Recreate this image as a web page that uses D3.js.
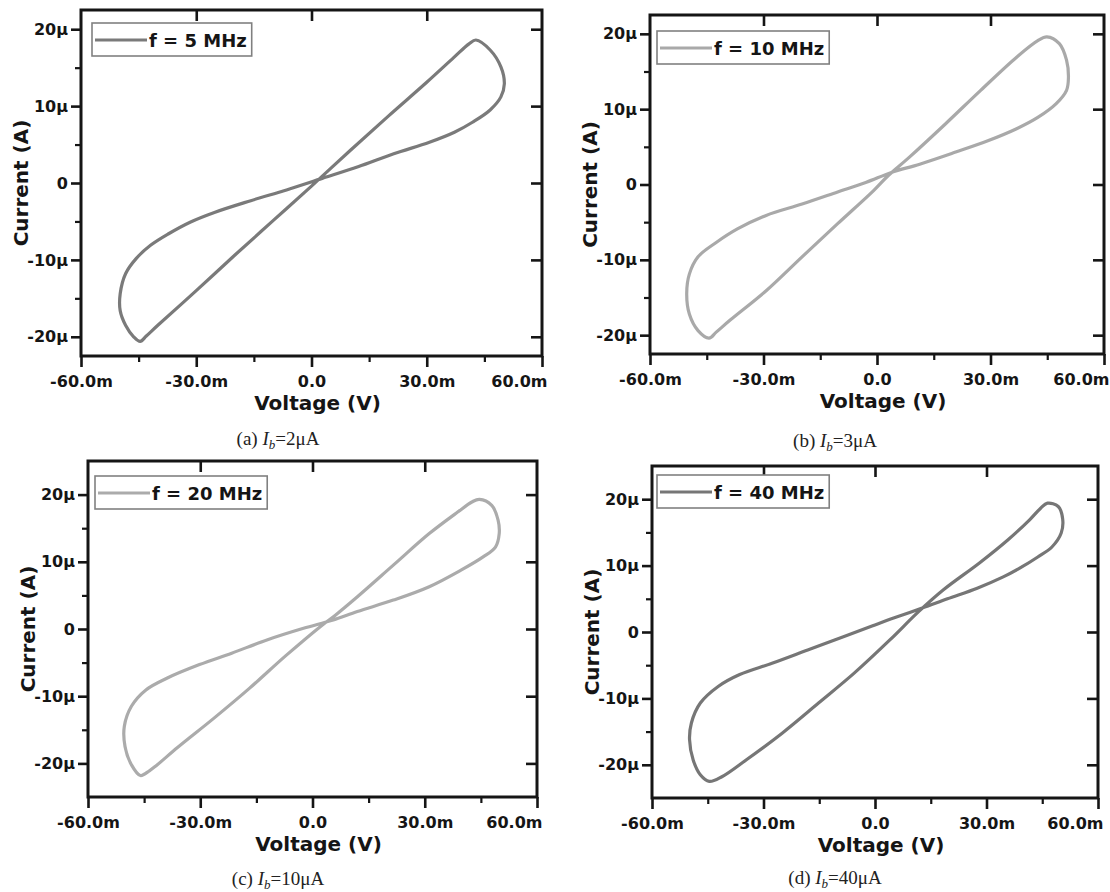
<!DOCTYPE html>
<html>
<head>
<meta charset="utf-8">
<script src="https://cdn.jsdelivr.net/npm/d3@7"></script>
<style>
body{margin:0;background:#fff;}
.tick text{font-family:"DejaVu Sans",sans-serif;font-weight:bold;font-size:16px;fill:#151515;}
.tick line{stroke:#151515;stroke-width:2.6;}
.minor .tick line{stroke-width:2.2;}
.axis-label{font-family:"DejaVu Sans",sans-serif;font-weight:bold;font-size:20px;fill:#151515;}
.legend-text{font-family:"DejaVu Sans",sans-serif;font-weight:bold;font-size:18px;fill:#151515;}
.caption{font-family:"Liberation Serif",serif;font-size:19px;fill:#222;}
</style>
</head>
<body>
<div class="container"></div>
<script>
// tick values (mV, µA) and their printed labels
var xTicks = [-60, -30, 0, 30, 60];
var xTickLabels = ['-60.0m', '-30.0m', '0.0', '30.0m', '60.0m'];
var xMinor = [-45, -15, 15, 45];
var yTicks = [-20, -10, 0, 10, 20];
var yTickLabels = ['-20µ', '-10µ', '0', '10µ', '20µ'];
var yMinor = [-15, -5, 5, 15];

var legendLabels = ['f = 5 MHz', 'f = 10 MHz', 'f = 20 MHz', 'f = 40 MHz'];
var captionLetters = ['a', 'b', 'c', 'd'];
var biasCurrents = ['2', '3', '10', '40'];

// loops: [voltage mV, current µA]
var loop5MHz = [[-44.6,-20.6],[-43,-19.9],[-40,-18.5],[-30,-14],[-20,-9.4],[-10,-4.9],[0,-0.4],[10,4.2],[20,8.7],[30,13.1],[37,16.3],[41,18.1],
	[42.8,18.6],[46.5,17.3],[49.3,15.1],[50.2,12.9],[49.3,11.2],[46.5,9.5],[41.9,7.9],[37.2,6.6],[30.7,5.3],[21.4,3.8],[12.1,2.1],[2.8,0.6],
	[-6.5,-0.9],[-15.8,-2.3],[-25.1,-3.8],[-31.6,-5.1],[-37.2,-6.6],[-41.9,-8.1],[-45.6,-9.8],[-48.4,-11.8],[-49.8,-14.4],[-49.8,-16.6],[-48.4,-18.5],[-46.3,-20]];
var loop10MHz = [[-44.4,-20.4],[-42.5,-19.6],[-38.8,-18],[-29.3,-14.1],[-19.8,-9.6],[-10.4,-5.2],[-0.9,-0.8],[2.8,1.1],[8.5,3.6],[18,8],[27.4,12.5],[36.9,16.9],[42.5,19.1],
	[44.9,19.6],[48.2,18.7],[50.1,16.5],[50.6,14.2],[50.1,12.5],[47.3,10.7],[42.5,8.9],[36.9,7.4],[29.3,5.8],[20.8,4.3],[11.3,2.7],[3.8,1.6],
	[-2.8,0.3],[-10.4,-1.0],[-19.8,-2.6],[-29.3,-4.1],[-36.9,-5.9],[-42.5,-7.7],[-47.3,-9.6],[-49.6,-11.9],[-50.3,-14.5],[-49.6,-17.2],[-47.3,-19.4]];
var loop20MHz = [[-46,-21.8],[-43.6,-21.1],[-41.7,-20.3],[-36,-17.6],[-26.4,-13.3],[-16.8,-8.8],[-7.2,-4],[2.4,0.5],[6.2,2.1],[12,4.8],[21.6,9.5],[31.2,14.2],[38.8,17.4],[42.6,18.9],
	[44.6,19.3],[47.9,18.4],[49.6,16.2],[49.9,14.2],[48.9,12.2],[45.5,10.7],[39.8,8.8],[31.2,6.3],[21.6,4.3],[12,2.6],[5.3,1.3],
	[-2.4,0.1],[-12,-1.6],[-21.6,-3.6],[-30.2,-5.3],[-38.8,-7.3],[-44.6,-9.1],[-48.4,-11.5],[-50.3,-14.5],[-50.1,-17.5],[-48.4,-20.2]];
var loop40MHz = [[-44.6,-22.5],[-41.2,-21.8],[-34.5,-19.2],[-24.9,-15.2],[-15.2,-10.7],[-5.6,-6.2],[4,-1.2],[11.8,3.1],[18.5,6.4],[28.1,10.4],[35.8,13.9],[41.6,16.9],[44.5,18.6],
	[46.4,19.4],[49.3,18.9],[50.5,17],[50.1,14.9],[47.6,12.8],[43.8,11.3],[39.5,9.8],[34.5,8.3],[27.5,6.6],[19.5,5],[12.7,3.6],[5,2.1],
	[-0.8,0.9],[-8.5,-0.7],[-18.1,-2.7],[-27.7,-4.7],[-36.4,-6.4],[-42.2,-8.2],[-47,-10.7],[-49.4,-13.7],[-49.9,-16.2],[-48.9,-19.3],[-47,-21.5]];

var loops = [loop5MHz, loop10MHz, loop20MHz, loop40MHz];
var yLimits = [22.5, 22.5, 25, 25];

const WIDTH = 1110;
const HEIGHT = 892;

// panel frames
var panels = [
	{left: 81,  right: 542,  top: 10,  bottom: 356, color: '#7a7a7a', legX: 92,  legY: 23,  capX: 278, capY: 445},
	{left: 650, right: 1104, top: 15,  bottom: 354, color: '#a9a9a9', legX: 657, legY: 31,  capX: 835, capY: 447},
	{left: 88,  right: 537,  top: 461, bottom: 797, color: '#ababab', legX: 95,  legY: 476, capX: 278, capY: 885},
	{left: 652, right: 1098, top: 466, bottom: 798, color: '#767676', legX: 657, legY: 475, capX: 835, capY: 884}
];

var translate = function(x, y){
	return "translate(" + x + "," + y + ")";
};

var svg = d3.select('.container').append('svg')
	.attr('width', WIDTH)
	.attr('height', HEIGHT);

var drawPanel = function(p, i){
	var xScale = d3.scaleLinear().domain([-60, 60]).range([p.left, p.right]);
	var yScale = d3.scaleLinear().domain([-yLimits[i], yLimits[i]]).range([p.bottom, p.top]);
	var g = svg.append('g');

	// curve
	var line = d3.line()
		.x(function(d){ return xScale(d[0]); })
		.y(function(d){ return yScale(d[1]); })
		.curve(d3.curveCatmullRomClosed.alpha(0.5));
	g.append('path')
		.attr('d', line(loops[i]))
		.attr('fill', 'none')
		.attr('stroke', p.color)
		.attr('stroke-width', 3.2)
		.attr('stroke-linejoin', 'round');

	// bottom axis
	var bottomAxis = g.append('g').attr('transform', translate(0, p.bottom))
		.call(d3.axisBottom(xScale).tickValues(xTicks).tickSize(11).tickPadding(9).tickSizeOuter(0)
			.tickFormat(function(d, k){ return xTickLabels[k]; }))
		.call(function(a){ a.select('.domain').remove(); });
	// last label is pulled inside, as in the original
	bottomAxis.selectAll('.tick text')
		.filter(function(d){ return d === 60; })
		.attr('text-anchor', 'end').attr('x', 5);
	g.append('g').attr('class', 'minor').attr('transform', translate(0, p.bottom))
		.call(d3.axisBottom(xScale).tickValues(xMinor).tickSize(6).tickFormat(''))
		.call(function(a){ a.select('.domain').remove(); });

	// top axis, inward ticks
	g.append('g').attr('transform', translate(0, p.top))
		.call(d3.axisTop(xScale).tickValues([-30, 0, 30]).tickSize(-11).tickFormat(''))
		.call(function(a){ a.select('.domain').remove(); });

	// left axis
	g.append('g').attr('transform', translate(p.left, 0))
		.call(d3.axisLeft(yScale).tickValues(yTicks).tickSize(10).tickPadding(3)
			.tickFormat(function(d, k){ return yTickLabels[k]; }))
		.call(function(a){ a.select('.domain').remove(); });
	g.append('g').attr('class', 'minor').attr('transform', translate(p.left, 0))
		.call(d3.axisLeft(yScale).tickValues(yMinor).tickSize(6).tickFormat(''))
		.call(function(a){ a.select('.domain').remove(); });

	// right axis, inward ticks
	g.append('g').attr('transform', translate(p.right, 0))
		.call(d3.axisRight(yScale).tickValues(yTicks).tickSize(-11).tickFormat(''))
		.call(function(a){ a.select('.domain').remove(); });

	// frame
	g.append('rect')
		.attr('x', p.left).attr('y', p.top)
		.attr('width', p.right - p.left).attr('height', p.bottom - p.top)
		.attr('fill', 'none').attr('stroke', '#151515').attr('stroke-width', 3);

	// axis titles
	g.append('text').attr('class', 'axis-label')
		.attr('text-anchor', 'middle')
		.attr('x', (p.left + p.right) / 2 + 6).attr('y', p.bottom + 54)
		.text('Voltage (V)');
	g.append('text').attr('class', 'axis-label')
		.attr('text-anchor', 'middle')
		.attr('transform', translate(p.left - 53, (p.top + p.bottom) / 2) + ' rotate(-90)')
		.text('Current (A)');

	// legend
	var leg = g.append('g').attr('transform', translate(p.legX, p.legY));
	var box = leg.append('rect')
		.attr('height', 33)
		.attr('fill', '#fff').attr('stroke', '#808080').attr('stroke-width', 1.6);
	leg.append('line')
		.attr('x1', 3).attr('x2', 55).attr('y1', 17).attr('y2', 17)
		.attr('stroke', p.color).attr('stroke-width', 3.2);
	var lt = leg.append('text').attr('class', 'legend-text')
		.attr('x', 57).attr('y', 24)
		.text(legendLabels[i]);
	box.attr('width', 57 + lt.node().getComputedTextLength() + 5);

	// caption
	var cap = g.append('text').attr('class', 'caption')
		.attr('text-anchor', 'middle')
		.attr('x', p.capX).attr('y', p.capY);
	cap.append('tspan').text('(' + captionLetters[i] + ') ');
	cap.append('tspan').attr('font-style', 'italic').text('I');
	cap.append('tspan').attr('font-style', 'italic').attr('font-size', '13px').attr('dy', 4).text('b');
	cap.append('tspan').attr('dy', -4).text('=' + biasCurrents[i] + 'μA');
};

panels.forEach(drawPanel);
</script>
</body>
</html>
